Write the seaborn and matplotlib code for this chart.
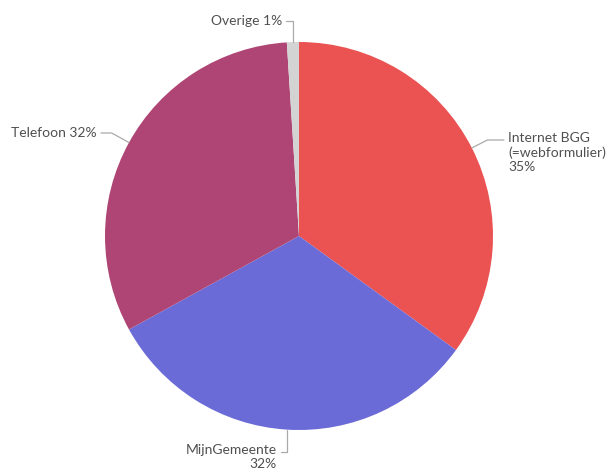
import numpy as np
import matplotlib
matplotlib.use("Agg")
import matplotlib.pyplot as plt
import seaborn as sns

sns.set_theme(style="white")
plt.rcParams['font.family'] = ['Lato', 'DejaVu Sans']

# data
labels = ['Internet BGG\n(=webformulier)\n35%', 'MijnGemeente\n32%', 'Telefoon 32%', 'Overige 1%']
values = [35, 32, 32, 1]
colors = ['#EB5252', '#6B6BD7', '#AF4574', '#D3D3D3']

fig = plt.figure(figsize=(6.11, 4.76), dpi=100)
W, H = 611, 476
cx, cy, R = 299, 236, 194
ax = fig.add_axes([(cx - R) / W, (H - cy - R) / H, 2 * R / W, 2 * R / H])

wedges, _ = ax.pie(values, colors=colors, startangle=90, counterclock=False,
                   radius=1, wedgeprops=dict(linewidth=0))
ax.set_xlim(-1, 1)
ax.set_ylim(-1, 1)
ax.set_aspect('equal')
ax.axis('off')

def px(x, y):
    # pixel position -> data coords
    return ((x - cx) / R, (cy - y) / R)

# label text x (pixels), line start (pixels)
label_pos = [
    dict(tx=508, start=(504, 140)),
    dict(tx=277, start=(281, 452)),
    dict(tx=97, start=(101, 133)),
    dict(tx=282, start=(286, 21)),
]

line_col = '#AAAAAA'
text_col = '#505050'
fs = 10
for w, lab, p in zip(wedges, labels, label_pos):
    mid = np.deg2rad((w.theta1 + w.theta2) / 2)
    anchor = (np.cos(mid), np.sin(mid))
    angB = np.rad2deg(mid) % 180
    if abs(np.sin(mid)) > 0.99:
        angB = 90
    sx, sy = px(*p['start'])
    tx = (p['tx'] - cx) / R
    ax.annotate('', xy=anchor, xytext=(sx, sy), annotation_clip=False,
                arrowprops=dict(arrowstyle='-', color=line_col, lw=0.9,
                                shrinkA=0, shrinkB=0,
                                connectionstyle=f"angle,angleA=0,angleB={angB},rad=0"))
    if lab.startswith('Internet'):
        ax.text(tx, sy + 8 / R, lab, ha='left', va='top', fontsize=fs,
                color=text_col, linespacing=1.2)
    elif lab.startswith('MijnGemeente'):
        ax.text(tx, sy + 8 / R, lab, ha='right', va='top', fontsize=fs,
                color=text_col, linespacing=1.2, multialignment='right')
    else:
        ax.text(tx, sy, lab, ha='right', va='center', fontsize=fs, color=text_col)

fig.savefig('out.png', dpi=100)
